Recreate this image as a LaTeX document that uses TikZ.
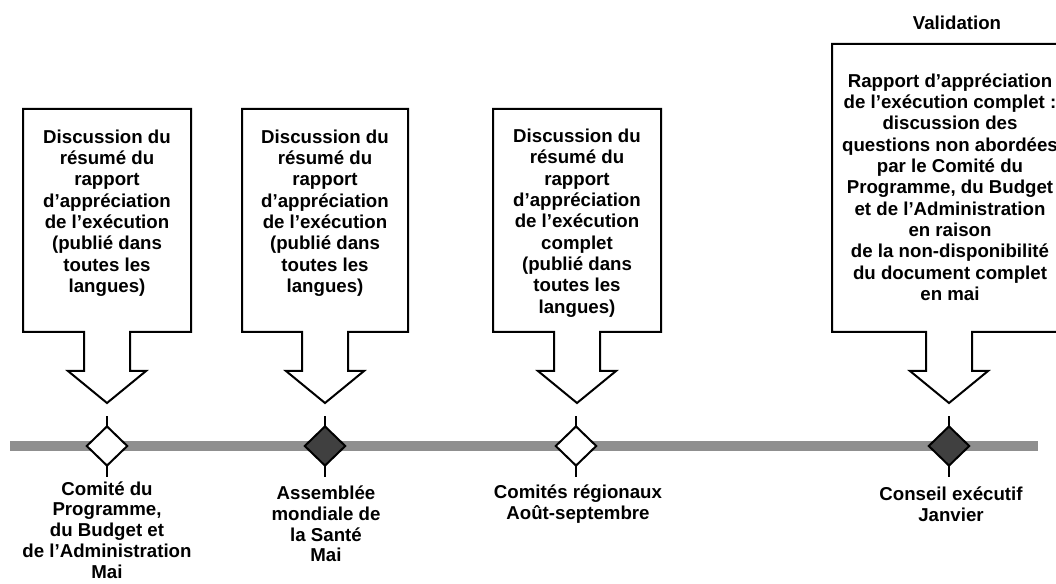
\documentclass[tikz,border=0pt]{standalone}
\usepackage{fontspec}
\setmainfont{Liberation Sans}
\usetikzlibrary{shapes.geometric}
\definecolor{tlgray}{HTML}{8F8F8F}
\definecolor{dkfill}{HTML}{404040}
\tikzset{
  txt/.style={align=center,font=\fontsize{14pt}{16pt}\selectfont\bfseries,inner sep=0pt},
  lbl/.style={align=center,font=\fontsize{14pt}{15.6pt}\selectfont\bfseries,inner sep=0pt},
  callout/.style={draw=black,line width=1.5pt,fill=white,line join=miter},
  marker/.style={diamond,draw=black,line width=1.5pt,inner sep=0pt,minimum width=31pt,minimum height=30pt,aspect=1},
  openmark/.style={marker,fill=white},
  fullmark/.style={marker,fill=dkfill},
  stem/.style={draw=black,line width=1.5pt},
  timeline/.style={draw=tlgray,line width=7.5pt}
}
\newcommand\calloutshape[4]{% cx, halfwidth, top, name
  \draw[callout] (#1-#2,#3) -- (#1+#2,#3) -- (#1+#2,332) -- (#1+23,332) -- (#1+23,371)
    -- (#1+39,371) -- (#1,403) -- (#1-39,371) -- (#1-23,371) -- (#1-23,332)
    -- (#1-#2,332) -- cycle;
  \coordinate (#4) at (#1,403);
}
\begin{document}
\begin{tikzpicture}[x=0.75pt,y=-0.75pt]
\useasboundingbox (0,0) rectangle (1056,584);
\clip (0,0) rectangle (1056,584);
% timeline
\coordinate (tlL) at (10,446);
\coordinate (tlR) at (1038,446);
\draw[timeline] (tlL) -- (tlR);
% callouts
\calloutshape{107}{84}{109}{c1}
\calloutshape{325}{83}{109}{c2}
\calloutshape{577}{84}{109}{c3}
\calloutshape{949}{117}{44}{c4}
\node[txt] (t1) at (107,213) {Discussion du\\résumé du\\rapport\\d’appréciation\\de l’exécution\\(publié dans\\toutes les\\langues)};
\node[txt] (t2) at (325,213) {Discussion du\\résumé du\\rapport\\d’appréciation\\de l’exécution\\(publié dans\\toutes les\\langues)};
\node[txt] (t3) at (577,223) {Discussion du\\résumé du\\rapport\\d’appréciation\\de l’exécution\\complet\\(publié dans\\toutes les\\langues)};
\node[txt] (t4) at (950,187) {Rapport d’appréciation\\de l’exécution complet :\\discussion des\\questions non abordées\\par le Comité du\\Programme, du Budget\\et de l’Administration\\en raison\\de la non-disponibilité\\du document complet\\en mai};
\node[txt] (val) at (957,23) {Validation};
% stems and markers
\foreach \x/\n in {107/1,325/2,576/3,949/4}{
  \coordinate (s\n a) at (\x,416);
  \coordinate (s\n b) at (\x,477);
  \draw[stem] (s\n a) -- (s\n b);
}
\node[openmark] (d1) at (107,446) {};
\node[fullmark] (d2) at (325,446) {};
\node[openmark] (d3) at (576,446) {};
\node[fullmark] (d4) at (949,446) {};
% labels
\node[lbl] (l1) at (107,530) {Comité du\\Programme,\\du Budget et\\de l’Administration\\Mai};
\node[lbl] (l2) at (326,524) {Assemblée\\mondiale de\\la Santé\\Mai};
\node[lbl] (l3) at (578,504) {Comités régionaux\\Août-septembre};
\node[lbl] (l4) at (951,504) {Conseil exécutif\\Janvier};
\end{tikzpicture}
\end{document}
